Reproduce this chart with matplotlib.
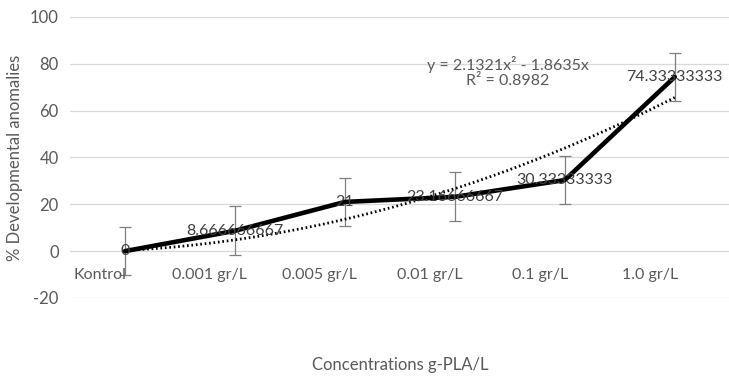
import numpy as np
import matplotlib
matplotlib.use('Agg')
import matplotlib.pyplot as plt
import matplotlib.transforms as mtransforms

# chart data
categories = ['Kontrol', '0.001 gr/L', '0.005 gr/L', '0.01 gr/L', '0.1 gr/L', '1.0 gr/L']
anomalies = [0.0, 8.666666667, 21.0, 23.16666667, 30.33333333, 74.33333333]
value_labels = ['0', '8.666666667', '21', '23.16666667', '30.33333333', '74.33333333']
errors = [10.4, 10.4, 10.4, 10.4, 10.4, 10.4]
trend_coef = [2.1321, -1.8635, 0.0]  # y = a x^2 + b x (x = 1..6)
trend_text = 'y = 2.1321x² - 1.8635x\nR² = 0.8982'
yticks = [-20, 0, 20, 40, 60, 80, 100]

plt.rcParams['font.family'] = ['Lato', 'DejaVu Sans']
plt.rcParams['axes.unicode_minus'] = False
grey = '#595959'
dark = '#404040'

fig = plt.figure(figsize=(7.29, 3.83), dpi=100)
ax = fig.add_axes([0.096, 0.222, 0.905, 0.734])

x = np.arange(len(categories))

# gridlines
for t in yticks:
    ax.axhline(t, color='#d9d9d9', lw=0.9, zorder=0)

# error bars and main line
ax.errorbar(x, anomalies, yerr=errors, fmt='none', ecolor='#7f7f7f',
            elinewidth=0.9, capsize=4.5, capthick=0.9, zorder=2)
ax.plot(x, anomalies, color='black', lw=3.3, solid_joinstyle='round',
        solid_capstyle='round', zorder=3)

# polynomial trendline (Excel style, x from 1)
xs = np.linspace(1, len(categories), 200)
ax.plot(xs - 1, np.polyval(trend_coef, xs), color='black', lw=2,
        ls=(0, (0.6, 1.0)), zorder=2.5)

# data labels centred on points
for xi, yi, lab in zip(x, anomalies, value_labels):
    ax.text(xi, yi, lab, ha='center', va='center', color=dark,
            fontsize=11.5, zorder=4)

ax.text(3.48, 76.5, trend_text, ha='center', va='center', color=grey,
        fontsize=11.5, linespacing=1.15)

# category labels near the zero line, shifted left like the original
offset = mtransforms.ScaledTranslation(-0.25, 0, fig.dpi_scale_trans)
for xi, lab in zip(x, categories):
    ax.text(xi, -10, lab, ha='center', va='center', color=grey, fontsize=11.5,
            transform=ax.transData + offset)

ax.set_xlim(-0.5, 5.5)
ax.set_ylim(-20, 100)
ax.set_xticks([])
ax.set_yticks(yticks)
ax.tick_params(axis='y', length=0, labelsize=12, labelcolor=grey, pad=8)
for s in ax.spines.values():
    s.set_visible(False)

ax.set_ylabel('% Developmental anomalies', color=grey, fontsize=12, labelpad=5)
fig.text(0.549, 0.047, 'Concentrations g-PLA/L', ha='center', va='center',
         color=grey, fontsize=12)

fig.savefig('out.png', dpi=100)
